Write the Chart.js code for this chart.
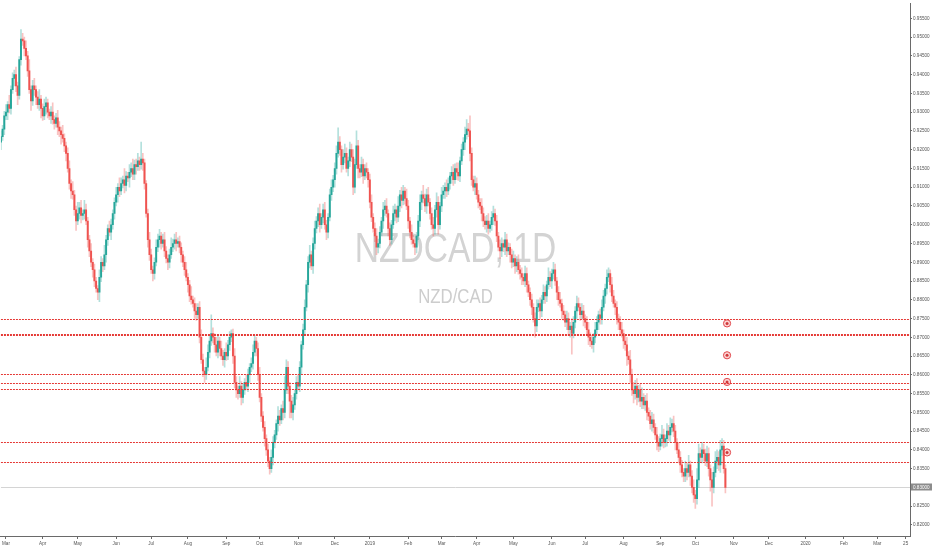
<!DOCTYPE html>
<html>
<head>
<meta charset="utf-8">
<script src="https://cdn.jsdelivr.net/npm/chart.js@4.4.0/dist/chart.umd.min.js"></script>
<style>
  html, body { margin: 0; padding: 0; background: #fff; }
  #wrap { width: 932px; height: 550px; }
  canvas { display: block; }
</style>
</head>
<body>
<div id="wrap"><canvas id="myChart" width="932" height="550"></canvas></div>
<script>
const symbol = 'NZDCAD, 1D';
const pairName = 'NZD/CAD';
const firstDay = '2018-02-26';
const firstOpen = 9220;

// daily closes in pips (x 0.0001), one per trading day
const closes = [
  9235, 9255, 9290, 9300, 9320, 9310, 9360, 9390, 9400, 9370,
  9345, 9440, 9495, 9490, 9470, 9450, 9410, 9360, 9330, 9370,
  9360, 9340, 9320, 9335, 9310, 9290, 9315, 9325, 9300, 9290,
  9300, 9280, 9270, 9285, 9260, 9250, 9240, 9230, 9210, 9190,
  9150, 9110, 9090, 9080, 9040, 9010, 9030, 9045, 9025, 9030,
  9040, 9010, 8960, 8930, 8900, 8880, 8850, 8830, 8820, 8860,
  8900, 8890, 8920, 8960, 8990, 8980, 9000, 9030, 9060, 9080,
  9100, 9090, 9110, 9120, 9105, 9130, 9125, 9140, 9150, 9135,
  9160, 9155, 9170, 9160, 9175, 9165, 9110, 9030, 8960, 8920,
  8880, 8870, 8900, 8940, 8960, 8970, 8950, 8960, 8930, 8910,
  8900, 8920, 8940, 8950, 8960, 8950, 8955, 8940, 8920, 8900,
  8880, 8860, 8840, 8810, 8800, 8790, 8770, 8760, 8780, 8700,
  8640, 8610, 8600, 8620, 8660, 8690, 8710, 8700, 8680, 8660,
  8690, 8670, 8650, 8640, 8660, 8650, 8680, 8700, 8710, 8650,
  8580, 8560, 8550, 8570, 8540, 8560, 8580, 8570, 8600, 8620,
  8630, 8660, 8690, 8670, 8600, 8540, 8490, 8460, 8430, 8400,
  8370, 8350, 8380, 8420, 8440, 8470, 8490, 8480, 8510, 8500,
  8560, 8620, 8570, 8530, 8500, 8520, 8550, 8580, 8570, 8620,
  8680, 8720, 8780, 8840, 8900, 8920, 8890, 8950, 8990, 9010,
  9030, 9000, 9020, 9040, 9000, 8980, 9020, 9080, 9100, 9120,
  9150, 9190, 9220, 9200, 9160, 9180, 9190, 9150, 9170, 9200,
  9180, 9100, 9160, 9210, 9150, 9140, 9160, 9130, 9150, 9140,
  9120, 9060, 9020, 8990, 8970, 8940, 8950, 8980, 9010, 9040,
  9050, 9030, 8990, 8960, 9000, 9030, 9040, 9020, 9050, 9080,
  9065, 9090, 9070, 9050, 9010, 8980, 8960, 8950, 8940, 8970,
  9010, 9060, 9080, 9070, 9050, 9080, 9060, 9030, 9000, 8990,
  9040, 9060, 9000, 9050, 9080, 9090, 9100, 9090, 9110, 9130,
  9140, 9120, 9150, 9140, 9130, 9170, 9200, 9220, 9240, 9255,
  9250, 9190, 9120, 9100, 9110, 9080, 9060, 9050, 9030, 9010,
  9000, 9010, 8990, 9000, 9020, 9030, 9010, 8970, 8940, 8930,
  8950, 8940, 8960, 8930, 8940, 8920, 8900, 8910, 8890, 8900,
  8880, 8870, 8860, 8850, 8870, 8840, 8820, 8800, 8780, 8750,
  8730, 8780, 8790, 8770, 8800, 8820, 8810, 8840, 8860, 8850,
  8870, 8880, 8850, 8820, 8800, 8790, 8770, 8760, 8740, 8750,
  8720, 8730, 8710, 8740, 8770, 8790, 8780, 8760, 8770, 8750,
  8740, 8720, 8700, 8690, 8680, 8700, 8720, 8740, 8760, 8750,
  8780, 8810, 8830, 8860, 8870, 8840, 8810, 8790, 8780, 8750,
  8740, 8720, 8710, 8690, 8680, 8650, 8640, 8600, 8560, 8550,
  8570, 8540, 8560, 8530, 8540, 8520, 8530, 8500, 8490, 8470,
  8480, 8460, 8440, 8420, 8410, 8430, 8440, 8420, 8430, 8450,
  8440, 8460, 8470, 8450, 8420, 8400, 8380, 8360, 8340, 8330,
  8350, 8340, 8360, 8330, 8300, 8280, 8270, 8320, 8390, 8380,
  8400, 8390, 8370, 8390, 8350, 8320, 8300, 8340, 8370, 8380,
  8360, 8400, 8410, 8350, 8300
];

// upper wick length in pips above the body
const highWick = [
  15,10,12,20,8,25,10,15,12,20, 10,8,25,15,10,20,12,30,10,15,
  20,10,15,25,10,12,20,15,10,8, 15,25,10,12,20,15,10,25,12,10,
  15,20,10,25,12,10,30,15,20,10, 25,15,10,12,20,10,15,10,8,20,
  15,10,25,12,10,20,15,10,12,20, 10,25,15,10,30,12,10,20,15,25,
  12,15,20,10,45,15,10,8,12,20, 15,10,12,20,15,18,10,15,20,12,
  10,15,25,12,15,20,10,15,12,10, 15,20,10,12,25,10,15,20,10,15,
  20,15,10,25,20,15,50,15,10,20, 15,10,20,15,10,25,12,15,10,12,
  20,15,10,25,12,15,10,20,15,10, 15,20,15,10,15,20,10,12,15,10,
  15,10,20,15,12,10,25,15,10,20, 35,20,15,10,15,20,10,15,20,15,
  10,15,20,12,15,25,10,15,20,12, 15,25,10,15,20,12,10,15,20,12,
  15,20,38,15,10,20,25,15,10,20, 15,20,15,40,15,10,20,15,10,15,
  10,15,20,10,15,20,12,15,10,20, 15,20,10,15,12,20,15,10,25,12,
  20,15,10,25,15,10,20,12,15,10, 15,20,10,25,12,15,20,10,15,20,
  12,25,15,10,20,15,12,20,15,10, 15,20,12,15,25,10,15,12,20,25,
  15,40,15,10,20,15,12,10,20,15, 12,15,20,10,15,20,12,15,10,20,
  15,10,20,15,12,10,15,20,10,15, 20,12,15,10,20,15,10,12,15,10,
  15,20,10,15,12,20,15,10,25,15, 12,20,15,10,15,20,12,15,10,20,
  15,10,20,15,12,20,15,10,20,15, 10,15,20,12,15,10,20,15,10,15,
  20,15,12,20,15,10,20,15,10,15, 12,15,20,10,15,20,12,25,15,20,
  15,20,12,15,25,10,15,20,12,15, 20,15,10,20,15,12,25,15,10,20,
  15,25,12,20,15,10,20,15,12,10, 20,15,25,10,15,20,12,30,25,15,
  20,15,12,20,15,10,20,15,25,20, 15,25,20,15,10
];

// lower wick length in pips below the body
const lowWick = [
  20,10,15,10,20,12,15,10,20,15, 25,10,15,12,20,10,15,10,25,12,
  15,20,10,15,25,12,10,20,15,10, 20,12,15,10,20,15,25,10,15,20,
  10,15,20,12,15,25,10,15,20,12, 15,10,20,15,12,20,15,10,20,25,
  12,15,10,20,15,10,20,12,15,10, 20,15,10,12,20,15,10,25,12,15,
  15,20,10,15,12,20,15,10,20,15, 10,20,15,10,12,20,15,10,15,12,
  20,15,10,12,15,20,10,15,20,12, 15,10,20,15,12,10,20,15,10,15,
  10,15,20,12,10,15,12,15,20,10, 15,20,10,15,20,12,10,15,12,20,
  15,20,15,10,20,15,12,10,15,20, 12,15,10,20,15,12,15,10,20,15,
  15,15,10,20,15,12,20,15,10,20, 15,10,20,45,15,20,12,15,10,15,
  20,12,15,10,20,15,10,20,15,12, 15,20,10,15,12,20,15,10,15,12,
  20,15,10,15,20,12,15,10,20,15, 12,20,15,10,25,15,12,20,10,15,
  20,15,12,10,15,20,15,12,10,20, 15,10,20,15,12,10,20,15,12,15,
  20,12,15,10,20,15,12,10,20,15, 10,15,20,12,15,20,10,15,12,20,
  15,20,25,12,15,10,20,15,10,15, 20,15,10,20,12,15,10,15,20,12,
  15,20,15,10,20,12,15,10,20,15, 12,20,15,10,15,20,12,15,10,20,
  15,12,20,15,10,20,15,12,20,15, 12,15,20,10,15,20,12,15,20,10,
  30,15,12,20,15,10,20,15,12,15, 20,15,12,20,15,10,20,15,12,20,
  15,20,55,12,15,20,10,15,12,20, 15,12,20,15,10,20,15,12,20,15,
  15,10,20,15,12,20,15,10,20,15, 20,15,10,20,15,25,12,20,15,25,
  15,20,12,15,20,10,15,20,12,15, 20,15,12,20,15,10,20,15,12,20,
  15,20,12,15,20,10,15,20,12,15, 15,20,12,25,15,20,26,15,20,12,
  15,20,12,15,20,30,50,15,12,20, 15,20,15,12,15
];

// horizontal levels drawn on the chart
const levels = [0.8748, 0.8709, 0.8706, 0.8602, 0.8577, 0.8561, 0.8422, 0.8368];
// alert markers at the right end
const alertBar = 435;
const alerts = [0.8737, 0.8652, 0.8581, 0.8393];
const lastPrice = 0.83000;

const yMin = 0.81703, yMax = 0.95890;
const xMin = 0, xMax = 544.6;
const yTicks = [0.820, 0.825, 0.830, 0.835, 0.840, 0.845, 0.850, 0.855, 0.860, 0.865,
  0.870, 0.875, 0.880, 0.885, 0.890, 0.895, 0.900, 0.905, 0.910, 0.915, 0.920, 0.925,
  0.930, 0.935, 0.940, 0.945, 0.950, 0.955];
const xTickDates = ['2018-03-01', '2018-04-01', '2018-05-01', '2018-06-01', '2018-07-01',
  '2018-08-01', '2018-09-01', '2018-10-01', '2018-11-01', '2018-12-01', '2019-01-01',
  '2019-02-01', '2019-03-01', '2019-04-01', '2019-05-01', '2019-06-01', '2019-07-01',
  '2019-08-01', '2019-09-01', '2019-10-01', '2019-11-01', '2019-12-01', '2020-01-01',
  '2020-02-01', '2020-03-01', '2020-03-25'];
const xTickLabels = ['Mar', 'Apr', 'May', 'Jun', 'Jul', 'Aug', 'Sep', 'Oct', 'Nov', 'Dec', '2019',
  'Feb', 'Mar', 'Apr', 'May', 'Jun', 'Jul', 'Aug', 'Sep', 'Oct', 'Nov', 'Dec', '2020',
  'Feb', 'Mar', '25'];

// trading days (weekdays) from the first bar on
const days = [];
let d = new Date(firstDay + 'T00:00:00Z');
while (days.length < 560) {
  const wd = d.getUTCDay();
  if (wd !== 0 && wd !== 6) days.push(d.toISOString().slice(0, 10));
  d.setUTCDate(d.getUTCDate() + 1);
}
const tickIndex = xTickDates.map(t => days.findIndex(s => s >= t));

const pip = 0.0001;
const bodies = [], wicks = [], bodyColors = [], wickColors = [];
let prev = firstOpen;
closes.forEach((c, i) => {
  const o = prev;
  const up = c >= o;
  const top = Math.max(o, c) + highWick[i];
  const bot = Math.min(o, c) - lowWick[i];
  bodies.push({ x: i, y: [o * pip, c * pip] });
  wicks.push({ x: i, y: [bot * pip, top * pip] });
  bodyColors.push(up ? '#26a69a' : '#ef5350');
  wickColors.push(up ? 'rgba(38,166,154,0.35)' : 'rgba(239,83,80,0.35)');
  prev = c;
});

// red dotted levels, snapped to whole pixels so they stay crisp
const levelLines = {
  id: 'levelLines',
  afterDatasetsDraw(chart) {
    const { ctx, chartArea: a, scales: { y } } = chart;
    ctx.save();
    ctx.strokeStyle = '#e53935';
    ctx.lineWidth = 1;
    ctx.setLineDash([2, 1]);
    levels.forEach(v => {
      const py = Math.round(y.getPixelForValue(v)) + 0.5;
      ctx.beginPath();
      ctx.moveTo(a.left, py);
      ctx.lineTo(a.right, py);
      ctx.stroke();
    });
    ctx.restore();
  }
};

const watermark = {
  id: 'watermark',
  beforeDatasetsDraw(chart) {
    const { ctx, chartArea: a, scales: { y } } = chart;
    const cx = (a.left + a.right) / 2, cy = (a.top + a.bottom) / 2;
    // last-price guide line
    const py = Math.round(y.getPixelForValue(lastPrice)) + 0.5;
    ctx.save();
    ctx.strokeStyle = '#d4d4d4';
    ctx.lineWidth = 1;
    ctx.beginPath();
    ctx.moveTo(a.left, py);
    ctx.lineTo(a.right, py);
    ctx.stroke();
    ctx.restore();

    ctx.save();
    ctx.fillStyle = '#d3d3d3';
    ctx.textAlign = 'center';
    ctx.textBaseline = 'middle';
    ctx.translate(cx, cy - 20);
    ctx.scale(0.78, 1);
    ctx.font = '43px "Liberation Sans", sans-serif';
    ctx.fillText(symbol, 0, 0);
    ctx.restore();
    ctx.save();
    ctx.fillStyle = '#cdcdcd';
    ctx.textAlign = 'center';
    ctx.textBaseline = 'middle';
    ctx.translate(cx, cy + 27);
    ctx.scale(0.8, 1);
    ctx.font = '21px "Liberation Sans", sans-serif';
    ctx.fillText(pairName, 0, 0);
    ctx.restore();
  }
};

const priceTag = {
  id: 'priceTag',
  afterDraw(chart) {
    const { ctx, chartArea: a, scales: { y } } = chart;
    const py = Math.round(y.getPixelForValue(lastPrice));
    ctx.save();
    ctx.fillStyle = '#8c8c8c';
    ctx.fillRect(a.right + 1, py - 3.5, 21, 7);
    ctx.fillStyle = '#fff';
    ctx.font = '4.6px "Liberation Sans", sans-serif';
    ctx.textBaseline = 'middle';
    ctx.fillText(lastPrice.toFixed(5), a.right + 3, py + 0.3);
    ctx.restore();
  }
};

const ctx = document.getElementById('myChart').getContext('2d');
const myChart = new Chart(ctx, {
  type: 'bar',
  data: {
    datasets: [
      {
        data: wicks,
        backgroundColor: wickColors,
        barThickness: 1,
        grouped: false,
        order: 4,
      },
      {
        data: bodies,
        backgroundColor: bodyColors,
        barThickness: 1.3,
        minBarLength: 1,
        grouped: false,
        order: 3,
      },
      {
        type: 'scatter',
        data: alerts.map(v => ({ x: alertBar, y: v })),
        pointRadius: 3.6,
        pointBackgroundColor: 'rgba(239,83,80,0.25)',
        pointBorderColor: '#e0474c',
        pointBorderWidth: 1,
        order: 0,
      },
      {
        type: 'scatter',
        data: alerts.map(v => ({ x: alertBar, y: v })),
        pointRadius: 1.5,
        pointBackgroundColor: '#c62f33',
        pointBorderWidth: 0,
        order: 0,
      },
    ],
  },
  options: {
    responsive: false,
    animation: false,
    devicePixelRatio: 1,
    layout: { padding: 0, autoPadding: false },
    plugins: { legend: { display: false }, tooltip: { enabled: false } },
    scales: {
      x: {
        type: 'linear',
        offset: false,
        min: xMin,
        max: xMax,
        afterBuildTicks: s => { s.ticks = tickIndex.map(v => ({ value: v })); },
        afterFit: s => { s.height = 14; },
        grid: { offset: false, drawOnChartArea: false, tickLength: 3, color: '#6a6a6a' },
        border: { color: '#6a6a6a' },
        ticks: {
          autoSkip: false,
          maxRotation: 0,
          padding: 2,
          color: '#555',
          font: { size: 4.6, family: 'Liberation Sans' },
          callback: (v, i) => xTickLabels[i],
        },
      },
      y: {
        position: 'right',
        min: yMin,
        max: yMax,
        afterBuildTicks: s => { s.ticks = yTicks.map(v => ({ value: v })); },
        afterFit: s => { s.width = 22; },
        grid: { drawOnChartArea: false, tickLength: 2, color: '#6a6a6a' },
        border: { color: '#6a6a6a' },
        ticks: {
          padding: 1,
          color: '#555',
          font: { size: 4.6, family: 'Liberation Sans' },
          callback: v => v.toFixed(5),
        },
      },
    },
  },
  plugins: [watermark, levelLines, priceTag],
});
</script>
</body>
</html>
